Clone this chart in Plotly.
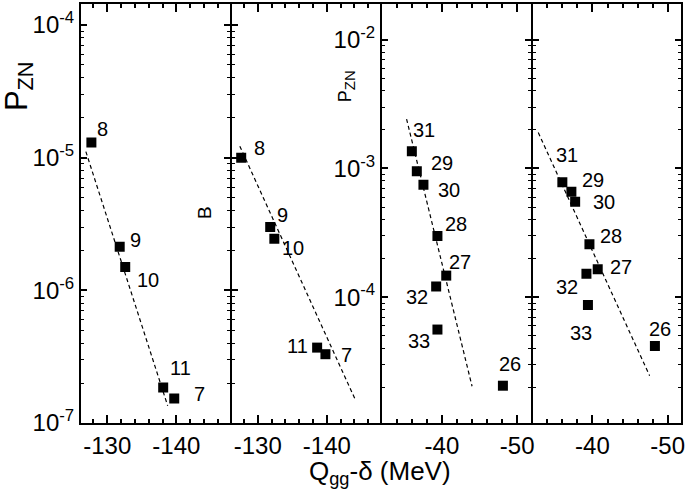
import numpy as np
import plotly.graph_objects as go

# ---------------- data ----------------
p1_lab = ["8", "9", "10", "11", "7"]
p1_x = [-127.7, -131.8, -132.6, -138.1, -139.7]
p1_y = [1.30e-5, 2.13e-6, 1.50e-6, 1.85e-7, 1.53e-7]
fit1_x = [-126.9, -138.75]
fit1_y = [1.11e-5, 1.35e-7]

p2_lab = ["8", "9", "10", "11", "7"]
p2_x = [-127.6, -131.8, -132.4, -138.6, -139.8]
p2_y = [1.0e-5, 3.0e-6, 2.45e-6, 3.7e-7, 3.3e-7]
fit2_x = [-127.4, -144.1]
fit2_y = [1.22e-5, 1.51e-7]

p3_lab = ["31", "29", "30", "28", "27", "32", "33", "26"]
p3_x = [-36.0, -36.66, -37.54, -39.4, -40.57, -39.23, -39.4, -48.1]
p3_y = [1.36e-3, 9.5e-4, 7.48e-4, 2.98e-4, 1.47e-4, 1.21e-4, 5.6e-5, 2.05e-5]
fit3_x = [-35.3, -44.0]
fit3_y = [2.42e-3, 2.03e-5]

p4_lab = ["31", "29", "30", "28", "27", "32", "33", "26"]
p4_x = [-36.0, -37.2, -37.7, -39.6, -40.7, -39.2, -39.4, -48.3]
p4_y = [7.8e-4, 6.6e-4, 5.5e-4, 2.58e-4, 1.65e-4, 1.52e-4, 8.7e-5, 4.18e-5]
fit4_x = [-32.8, -47.6]
fit4_y = [1.9e-3, 2.45e-5]

xA_tickvals = [-130, -140]
xA_ticktext = ["-130", "-140"]
xB_tickvals = [-40, -50]
xB_ticktext = ["-40", "-50"]
yA_tickvals = [1e-7, 1e-6, 1e-5, 1e-4]
yA_ticktext = ["10<sup>-7</sup>", "10<sup>-6</sup>", "10<sup>-5</sup>", "10<sup>-4</sup>"]
yB_tickvals = [1e-4, 1e-3, 1e-2]
yB_ticktext = ["10<sup>-4</sup>", "10<sup>-3</sup>", "10<sup>-2</sup>"]

x_title = "Q<sub>gg</sub>-δ (MeV)"
y_title = "P<sub>ZN</sub>"
y_title_small = "P<sub><span style='font-size:15px'>ZN</span></sub>"
panel_b_label = "B"

# ---------------- styling / layout ----------------
FONT = "Liberation Sans, Arial, sans-serif"
# label pixel offsets (dx right, dy down) relative to each point
off1 = [(11, -14), (16, -7), (23, 13), (17, -20), (25, -5)]
off2 = [(18, -10), (12, -12), (19, 9), (-20, -2), (21, 1)]
off3 = [(12, -21), (25, -8), (26, 5), (19, -12), (14, -14), (-19, 11), (-18, 11), (7, -22)]
off4 = [(5, -27), (22, -12), (29, 0), (22, -8), (23, -2), (-19, 13), (-7, 28), (5, -17)]

panels = [
    (p1_x, p1_y, p1_lab, fit1_x, fit1_y, off1),
    (p2_x, p2_y, p2_lab, fit2_x, fit2_y, off2),
    (p3_x, p3_y, p3_lab, fit3_x, fit3_y, off3),
    (p4_x, p4_y, p4_lab, fit4_x, fit4_y, off4),
]

def minor_log(lo, hi):
    vals = []
    for e in range(lo, hi + 1):
        for m in range(2, 10):
            vals.append(m * 10.0 ** e)
    return vals

fig = go.Figure()
annotations = []
for i, (px, py, lab, fx, fy, off) in enumerate(panels):
    n = "" if i == 0 else str(i + 1)
    xa, ya = "x" + n, "y" + n
    fig.add_trace(go.Scatter(x=fx, y=fy, mode="lines", xaxis=xa, yaxis=ya,
                             line=dict(color="black", width=1.2, dash="4px,3px"),
                             showlegend=False, hoverinfo="skip"))
    fig.add_trace(go.Scatter(x=px, y=py, mode="markers", xaxis=xa, yaxis=ya,
                             marker=dict(symbol="square", size=10, color="black",
                                         line=dict(width=0)),
                             showlegend=False))
    for xv, yv, t, (dx, dy) in zip(px, py, lab, off):
        annotations.append(dict(x=xv, y=np.log10(yv), xref=xa, yref=ya, text=t,
                                showarrow=False, xshift=dx, yshift=-dy,
                                xanchor="center", yanchor="middle",
                                font=dict(family=FONT, size=20, color="black")))

domains = [[0, 0.25], [0.25, 0.5], [0.5, 0.75], [0.75, 1.0]]
xA_range = [-126.05, -147.85]
xB_range = [-31.9, -51.9]
yA_range = [-7, -3.842]
yB_range = [-4.978, -1.722]

common_x = dict(showline=True, linecolor="black", linewidth=2, mirror="ticks",
                ticks="inside", ticklen=8, tickwidth=1.5, tickcolor="black",
                showgrid=False, zeroline=False, automargin=False,
                ticklabeloverflow="allow",
                tickfont=dict(family=FONT, size=24, color="black"),
                minor=dict(ticks="inside", ticklen=4, tickwidth=1.5, tickcolor="black",
                           dtick=2, tick0=0, showgrid=False))
common_y = dict(type="log", showline=True, linecolor="black", linewidth=1,
                ticks="inside", ticklen=7, tickwidth=1.5, tickcolor="black",
                showgrid=False, zeroline=False, automargin=False,
                ticklabeloverflow="allow",
                tickfont=dict(family=FONT, size=24, color="black"))

layout = {}
for i in range(4):
    n = "" if i == 0 else str(i + 1)
    xkey, ykey = "xaxis" + n, "yaxis" + n
    xr = xA_range if i < 2 else xB_range
    tv = xA_tickvals if i < 2 else xB_tickvals
    tt = xA_ticktext if i < 2 else xB_ticktext
    layout[xkey] = dict(common_x, domain=domains[i], range=xr, anchor="y" + n,
                        tickmode="array", tickvals=tv, ticktext=tt)
    yr = yA_range if i < 2 else yB_range
    ytv = yA_tickvals if i < 2 else yB_tickvals
    ytt = yA_ticktext if i < 2 else yB_ticktext
    mlo, mhi = (-7, -4) if i < 2 else (-5, -2)
    layout[ykey] = dict(common_y, range=yr, anchor="x" + n, domain=[0, 1],
                        tickmode="array", tickvals=ytv, ticktext=ytt,
                        showticklabels=(i in (0, 2)),
                        mirror=(True if i == 1 else "ticks"),
                        minor=dict(ticks="inside", ticklen=4, tickwidth=1.2, tickcolor="black",
                                   tickmode="array", tickvals=minor_log(mlo, mhi), showgrid=False))

annotations.append(dict(xref="paper", yref="paper", x=0.498, y=0, yshift=-49,
                        text=x_title, showarrow=False, xanchor="center", yanchor="middle",
                        font=dict(family=FONT, size=26, color="black")))
annotations.append(dict(xref="paper", yref="paper", x=0, xshift=-61, y=0.804,
                        text=y_title, showarrow=False, textangle=-90,
                        xanchor="center", yanchor="middle",
                        font=dict(family=FONT, size=31, color="black")))
annotations.append(dict(xref="paper", yref="paper", x=0.4419, y=0.804,
                        text=y_title_small, showarrow=False, textangle=-90,
                        xanchor="center", yanchor="middle",
                        font=dict(family=FONT, size=18, color="black")))
annotations.append(dict(xref="paper", yref="paper", x=0.2076, y=0.5036,
                        text=panel_b_label, showarrow=False, textangle=-90,
                        xanchor="center", yanchor="middle",
                        font=dict(family=FONT, size=19, color="black")))

# outer frame edges (left/right) thickened to match 2px frame
shapes = [
    dict(type="line", xref="paper", yref="paper", x0=0, x1=0, y0=0, y1=1,
         line=dict(color="black", width=2)),
    dict(type="line", xref="paper", yref="paper", x0=1, x1=1, y0=0, y1=1,
         line=dict(color="black", width=2)),
]

fig.update_layout(template="none", width=685, height=496,
                  margin=dict(l=80, r=3, t=4, b=73, autoexpand=False),
                  paper_bgcolor="white", plot_bgcolor="white",
                  annotations=annotations, shapes=shapes, **layout)
fig.write_html("out.html", config={"displayModeBar": False},
               post_script="document.body.style.margin='0';")
